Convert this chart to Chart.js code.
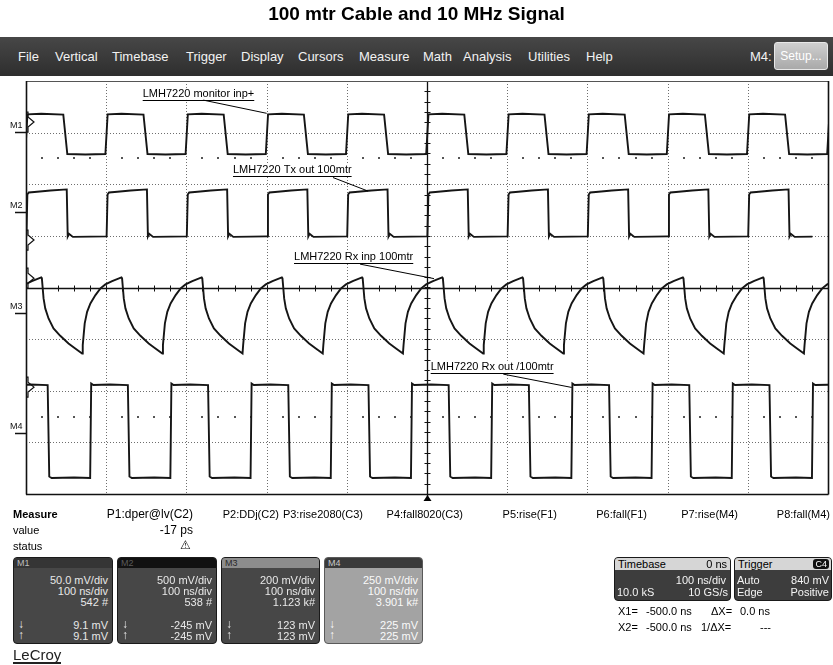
<!DOCTYPE html>
<html>
<head>
<meta charset="utf-8">
<script src="https://cdn.jsdelivr.net/npm/chart.js@4.4.0/dist/chart.umd.min.js"></script>
<style>
  html, body { margin: 0; padding: 0; background: #fff; }
  body { width: 833px; height: 665px; position: relative; overflow: hidden;
         font-family: "Liberation Sans", Arial, sans-serif; color: #000; }
  #scope { position: absolute; left: 0; top: 0; z-index: 0; }
  .abs { position: absolute; white-space: nowrap; z-index: 1; }
  #title { left: 0; width: 833px; top: 3px; text-align: center; font-weight: bold; font-size: 19px; }
  #menubar { left: 0; top: 37px; width: 833px; height: 39px;
             background: linear-gradient(#474747, #2e2e2e); }
  .menu { position: absolute; top: 12px; font-size: 13px; color: #f2f2f2; }
  #setup { position: absolute; left: 774px; top: 5px; width: 54px; height: 28px; box-sizing: border-box;
           border: 1px solid #e8e8e8; border-radius: 3px; background: linear-gradient(#cfcfcf, #a9a9a9);
           color: #fff; font-size: 12px; line-height: 26px; text-align: center; }
  .txt { font-size: 11px; line-height: 13px; }
  .box { position: absolute; z-index: 1; box-sizing: border-box; border: 1px solid #1a1a1a;
         border-radius: 4px; overflow: hidden; background: #474747; color: #e8e8e8; font-size: 11px; }
  .box .hd { position: absolute; left: 0; top: 0; right: 0; height: 10px; font-size: 9px; line-height: 10px; padding-left: 3px; }
  .box .r { position: absolute; right: 4px; line-height: 11px; color: inherit; }
  .box .l { position: absolute; left: 4px; line-height: 11px; color: inherit; font-size: 12px; }
</style>
</head>
<body>
<canvas id="scope" width="833" height="665"></canvas>

<div class="abs" id="title">100 mtr Cable and 10 MHz Signal</div>

<div class="abs" id="menubar">
  <span class="menu" style="left:18px">File</span>
  <span class="menu" style="left:55px">Vertical</span>
  <span class="menu" style="left:112px">Timebase</span>
  <span class="menu" style="left:186px">Trigger</span>
  <span class="menu" style="left:241px">Display</span>
  <span class="menu" style="left:298px">Cursors</span>
  <span class="menu" style="left:359px">Measure</span>
  <span class="menu" style="left:423px">Math</span>
  <span class="menu" style="left:463px">Analysis</span>
  <span class="menu" style="left:528px">Utilities</span>
  <span class="menu" style="left:586px">Help</span>
  <span class="menu" style="left:750px">M4:</span>
  <div id="setup">Setup...</div>
</div>

<!-- measurement rows -->
<div class="abs txt" style="left:13px; top:508px; font-weight:bold">Measure</div>
<div class="abs txt" style="left:13px; top:524px">value</div>
<div class="abs txt" style="left:13px; top:540px">status</div>
<div class="abs txt" style="right:640px; top:508px; font-size:12px">P1:dper@lv(C2)</div>
<div class="abs txt" style="right:554px; top:508px">P2:DDj(C2)</div>
<div class="abs txt" style="right:470px; top:508px">P3:rise2080(C3)</div>
<div class="abs txt" style="right:370px; top:508px">P4:fall8020(C3)</div>
<div class="abs txt" style="right:276px; top:508px">P5:rise(F1)</div>
<div class="abs txt" style="right:186px; top:508px">P6:fall(F1)</div>
<div class="abs txt" style="right:95px; top:508px">P7:rise(M4)</div>
<div class="abs txt" style="right:3px; top:508px">P8:fall(M4)</div>
<div class="abs txt" style="right:640px; top:524px; font-size:12px">-17 ps</div>
<div class="abs txt" style="left:180px; top:539px; font-family:'DejaVu Sans'; font-size:12px; font-weight:bold">⚠</div>

<!-- channel boxes -->
<div class="box" style="left:13px; top:557px; width:100px; height:87px">
  <div class="hd" style="background:#353535; color:#bdbdbd">M1</div>
  <div class="r" style="top:17px">50.0 mV/div</div>
  <div class="r" style="top:28px">100 ns/div</div>
  <div class="r" style="top:39px">542 #</div>
  <div class="l" style="top:61px">↓</div><div class="r" style="top:62px">9.1 mV</div>
  <div class="l" style="top:72px">↑</div><div class="r" style="top:73px">9.1 mV</div>
</div>
<div class="box" style="left:117px; top:557px; width:100px; height:87px">
  <div class="hd" style="background:#111; color:#5a5a5a">M2</div>
  <div class="r" style="top:17px">500 mV/div</div>
  <div class="r" style="top:28px">100 ns/div</div>
  <div class="r" style="top:39px">538 #</div>
  <div class="l" style="top:61px">↓</div><div class="r" style="top:62px">-245 mV</div>
  <div class="l" style="top:72px">↑</div><div class="r" style="top:73px">-245 mV</div>
</div>
<div class="box" style="left:221px; top:557px; width:99px; height:87px">
  <div class="hd" style="background:#8d8d8d; color:#2a2a2a">M3</div>
  <div class="r" style="top:17px">200 mV/div</div>
  <div class="r" style="top:28px">100 ns/div</div>
  <div class="r" style="top:39px">1.123 k#</div>
  <div class="l" style="top:61px">↓</div><div class="r" style="top:62px">123 mV</div>
  <div class="l" style="top:72px">↑</div><div class="r" style="top:73px">123 mV</div>
</div>
<div class="box" style="left:324px; top:557px; width:99px; height:87px; background:#a3a3a3; border-color:#5a5a5a; color:#fafafa">
  <div class="hd" style="background:#3a3a3a; color:#c8c8c8">M4</div>
  <div class="r" style="top:17px">250 mV/div</div>
  <div class="r" style="top:28px">100 ns/div</div>
  <div class="r" style="top:39px">3.901 k#</div>
  <div class="l" style="top:61px">↓</div><div class="r" style="top:62px">225 mV</div>
  <div class="l" style="top:72px">↑</div><div class="r" style="top:73px">225 mV</div>
</div>

<!-- timebase / trigger -->
<div class="box" style="left:614px; top:557px; width:117px; height:44px; background:#3d3d3d; color:#f4f4f4">
  <div class="hd" style="height:12px; background:#d6d6d6; color:#000; font-size:11px; line-height:12px">Timebase<span style="position:absolute; right:3px">0 ns</span></div>
  <div class="r" style="top:17px">100 ns/div</div>
  <div class="l" style="top:29px; left:2px; font-size:11px">10.0 kS</div><div class="r" style="top:29px; right:2px">10 GS/s</div>
</div>
<div class="box" style="left:734px; top:557px; width:98px; height:44px; background:#3d3d3d; color:#f4f4f4">
  <div class="hd" style="height:12px; background:#d6d6d6; color:#000; font-size:11px; line-height:12px">Trigger<span style="position:absolute; right:2px; top:1px; background:#111; color:#fff; border-radius:3px; font-size:9px; line-height:10px; padding:0 2px">C4</span></div>
  <div class="l" style="top:17px; left:2px; font-size:11px">Auto</div><div class="r" style="top:17px; right:2px">840 mV</div>
  <div class="l" style="top:29px; left:2px; font-size:11px">Edge</div><div class="r" style="top:29px; right:2px">Positive</div>
</div>

<div class="abs txt" style="left:618px; top:605px">X1=</div>
<div class="abs txt" style="left:646px; top:605px">-500.0 ns</div>
<div class="abs txt" style="left:711px; top:605px">ΔX=</div>
<div class="abs txt" style="left:740px; top:605px">0.0 ns</div>
<div class="abs txt" style="left:618px; top:621px">X2=</div>
<div class="abs txt" style="left:646px; top:621px">-500.0 ns</div>
<div class="abs txt" style="left:701px; top:621px">1/ΔX=</div>
<div class="abs txt" style="left:760px; top:621px">---</div>

<div class="abs" style="left:13px; top:647px; font-size:15px; color:#222; border-bottom:2px solid #222; line-height:15px">LeCroy</div>

<script>
// time axis in ns (100 ns/div, 10 div), vertical in graticule divisions (8 div)
const timeRange = [-500, 500];
const divRange = [-4, 4];

// M1: LMH7220 monitor inp+ (cycle start = rising edge, ns) and one cycle shape [ns after edge, div]
const m1Cycles = [-501, -401, -301, -201, -101, -1, 99, 199, 299, 399, 499];
const m1Shape = [[0, 2.585], [2.8, 3.355], [20, 3.365], [47.5, 3.35], [52.5, 2.585], [75, 2.575]];

// M2: LMH7220 Tx out 100mtr
const m2Cycles = [-499.5, -399.5, -299.5, -199.5, -99.5, 0.5, 100.5, 200.5, 300.5, 400.5];
const m2Shape = [[0, 0.99], [1.2, 1.80], [3, 1.84], [10, 1.85], [30, 1.88], [50.3, 1.90],
                 [51.5, 0.99], [53, 1.04], [58, 0.98], [80, 0.985]];

// M3: LMH7220 Rx inp 100mtr
const m3Cycles = [-530, -430, -330, -230, -130, -30, 70, 170, 270, 370, 470];
const m3Shape = [[0, -1.277], [0.75, -1.116], [3.2, -0.696], [6.2, -0.471], [10.3, -0.308],
                 [16.6, -0.147], [22.8, -0.017], [29, 0.06], [37.4, 0.124], [49, 0.196],
                 [49.8, 0.176], [51.9, -0.211], [54, -0.405], [58.1, -0.599], [64.3, -0.792],
                 [72.7, -0.936], [83, -1.083], [91.4, -1.18]];

// M4: LMH7220 Rx out /100mtr
const m4Cycles = [-520, -420, -320, -220, -120, -20, 80, 180, 280, 380, 480];
const m4Shape = [[0, -3.69], [1.3, -1.86], [4, -1.89], [25, -1.88], [47, -1.89],
                 [49, -3.66], [52, -3.69], [80, -3.68]];

// channel names, ground markers (div) and level markers (div)
const chanNames = ['M1', 'M2', 'M3', 'M4'];
const chanGround = [3.02, 1.47, -0.50, -2.82];
const chanLevel = [3.205, 0.919, 0.18, -1.93];

// callouts: text, text anchor [ns, div], leader start, leader end
const noteText = ['LMH7220 monitor inp+', 'LMH7220 Tx out 100mtr', 'LMH7220 Rx inp 100mtr', 'LMH7220 Rx out /100mtr'];
const noteAt = [[-354.5, 3.75], [-241.9, 2.275], [-165.8, 0.589], [4.6, -1.537]];
const noteFrom = [[-279, 3.63], [-117.2, 2.13], [-83.5, 0.453], [95.1, -1.678]];
const noteTo = [[-199.9, 3.374], [-73.6, 1.868], [8.7, 0.172], [180.4, -1.936]];

function buildTrace(cycles, shape) {
  const pts = [];
  cycles.forEach(c => shape.forEach(p => pts.push({ x: c + p[0], y: p[1] })));
  return pts;
}

function line(ctx, x1, y1, x2, y2) {
  ctx.beginPath();
  ctx.moveTo(x1, y1);
  ctx.lineTo(x2, y2);
  ctx.stroke();
}

// Graticule drawn under the traces
const graticule = {
  id: 'graticule',
  beforeDatasetsDraw(chart) {
    const { ctx, chartArea: a, scales: { x, y } } = chart;
    ctx.save();
    ctx.lineWidth = 1;

    // dotted division lines
    ctx.strokeStyle = '#6e6e6e';
    ctx.setLineDash([1, 2]);
    for (let t = timeRange[0] + 100; t < timeRange[1]; t += 100) {
      if (t === 0) continue;
      const px = Math.round(x.getPixelForValue(t)) + 0.5;
      line(ctx, px, a.top, px, a.bottom);
    }
    for (let d = divRange[0] + 1; d < divRange[1]; d++) {
      if (d === 0) continue;
      const py = Math.round(y.getPixelForValue(d)) + 0.5;
      line(ctx, a.left, py, a.right, py);
    }
    ctx.setLineDash([]);

    // dot rows at mid-division
    ctx.fillStyle = '#555';
    [2.5, -2.5].forEach(d => {
      const py = Math.round(y.getPixelForValue(d));
      for (let t = timeRange[0]; t < timeRange[1]; t += 20) {
        if ((t - timeRange[0]) % 100 === 0) continue;
        ctx.fillRect(Math.round(x.getPixelForValue(t)) - 1, py - 1, 2, 2);
      }
    });

    // centre cross with ticks
    ctx.strokeStyle = '#111';
    ctx.lineWidth = 1.3;
    const cx = Math.round(x.getPixelForValue(0)) + 0.5;
    const cy = Math.round(y.getPixelForValue(0)) + 0.5;
    line(ctx, a.left, cy, a.right, cy);
    line(ctx, cx, a.top, cx, a.bottom + 3);
    ctx.lineWidth = 1;
    for (let t = timeRange[0] + 20; t < timeRange[1]; t += 20) {
      const px = Math.round(x.getPixelForValue(t)) + 0.5;
      line(ctx, px, cy - 3, px, cy + 3);
    }
    for (let d = divRange[0] + 0.2; d < divRange[1] - 0.1; d += 0.2) {
      const py = Math.round(y.getPixelForValue(d)) + 0.5;
      line(ctx, cx - 3, py, cx + 3, py);
    }

    // trigger position marker
    ctx.fillStyle = '#000';
    ctx.beginPath();
    ctx.moveTo(cx, a.bottom + 1);
    ctx.lineTo(cx + 4, a.bottom + 7);
    ctx.lineTo(cx - 4, a.bottom + 7);
    ctx.closePath();
    ctx.fill();

    // frame
    ctx.strokeStyle = '#555';
    ctx.lineWidth = 1;
    line(ctx, a.left, a.top + 0.5, a.right, a.top + 0.5);
    ctx.strokeStyle = '#111';
    ctx.lineWidth = 1.6;
    line(ctx, a.left + 0.5, a.top, a.left + 0.5, a.bottom + 0.5);
    line(ctx, a.left, a.bottom + 0.5, a.right + 0.5, a.bottom + 0.5);
    line(ctx, a.right + 0.5, a.top, a.right + 0.5, a.bottom + 0.5);
    ctx.restore();
  },

  afterDatasetsDraw(chart) {
    const { ctx, chartArea: a, scales: { x, y } } = chart;
    ctx.save();

    // channel labels, ground ticks and level markers in the left margin
    ctx.strokeStyle = '#111';
    ctx.fillStyle = '#111';
    ctx.font = '9px "Liberation Sans"';
    ctx.textBaseline = 'middle';
    chanNames.forEach((name, i) => {
      const gy = Math.round(y.getPixelForValue(chanGround[i])) + 0.5;
      ctx.lineWidth = 1.5;
      line(ctx, a.left - 11, gy, a.left, gy);
      ctx.fillText(name, a.left - 16, gy - 7);
      const ly = y.getPixelForValue(chanLevel[i]);
      ctx.lineWidth = 1.2;
      ctx.beginPath();
      ctx.moveTo(a.left, ly - 10);
      ctx.lineTo(a.left + 2, ly - 10);
      ctx.lineTo(a.left + 2, ly - 5);
      ctx.lineTo(a.left + 8, ly);
      ctx.lineTo(a.left + 2, ly + 5);
      ctx.lineTo(a.left + 2, ly + 10);
      ctx.lineTo(a.left, ly + 10);
      ctx.stroke();
    });

    // callouts
    ctx.font = '11px "Liberation Sans"';
    ctx.lineWidth = 1;
    noteText.forEach((txt, i) => {
      const tx = x.getPixelForValue(noteAt[i][0]);
      const ty = y.getPixelForValue(noteAt[i][1]);
      const w = ctx.measureText(txt).width;
      ctx.fillStyle = '#fff';
      ctx.fillRect(tx - 1, ty - 6, w + 2, 12);
      ctx.fillStyle = '#000';
      ctx.fillText(txt, tx, ty);
      ctx.strokeStyle = '#000';
      line(ctx, tx, Math.round(ty + 6) + 0.5, tx + w, Math.round(ty + 6) + 0.5);
      line(ctx, x.getPixelForValue(noteFrom[i][0]), y.getPixelForValue(noteFrom[i][1]),
           x.getPixelForValue(noteTo[i][0]), y.getPixelForValue(noteTo[i][1]));
    });
    ctx.restore();
  }
};

const traceStyle = { borderColor: '#151515', borderWidth: 1.9, pointRadius: 0, fill: false, tension: 0 };

new Chart(document.getElementById('scope'), {
  type: 'line',
  data: {
    datasets: [
      Object.assign({ label: 'M1', data: buildTrace(m1Cycles, m1Shape) }, traceStyle),
      Object.assign({ label: 'M2', data: buildTrace(m2Cycles, m2Shape) }, traceStyle),
      Object.assign({ label: 'M3', data: buildTrace(m3Cycles, m3Shape) }, traceStyle),
      Object.assign({ label: 'M4', data: buildTrace(m4Cycles, m4Shape) }, traceStyle)
    ]
  },
  options: {
    responsive: false,
    animation: false,
    layout: { padding: { left: 26, right: 5, top: 81, bottom: 171 } },
    scales: {
      x: { type: 'linear', min: timeRange[0], max: timeRange[1], display: false },
      y: { type: 'linear', min: divRange[0], max: divRange[1], display: false }
    },
    plugins: { legend: { display: false }, tooltip: { enabled: false } }
  },
  plugins: [graticule]
});
</script>
</body>
</html>
